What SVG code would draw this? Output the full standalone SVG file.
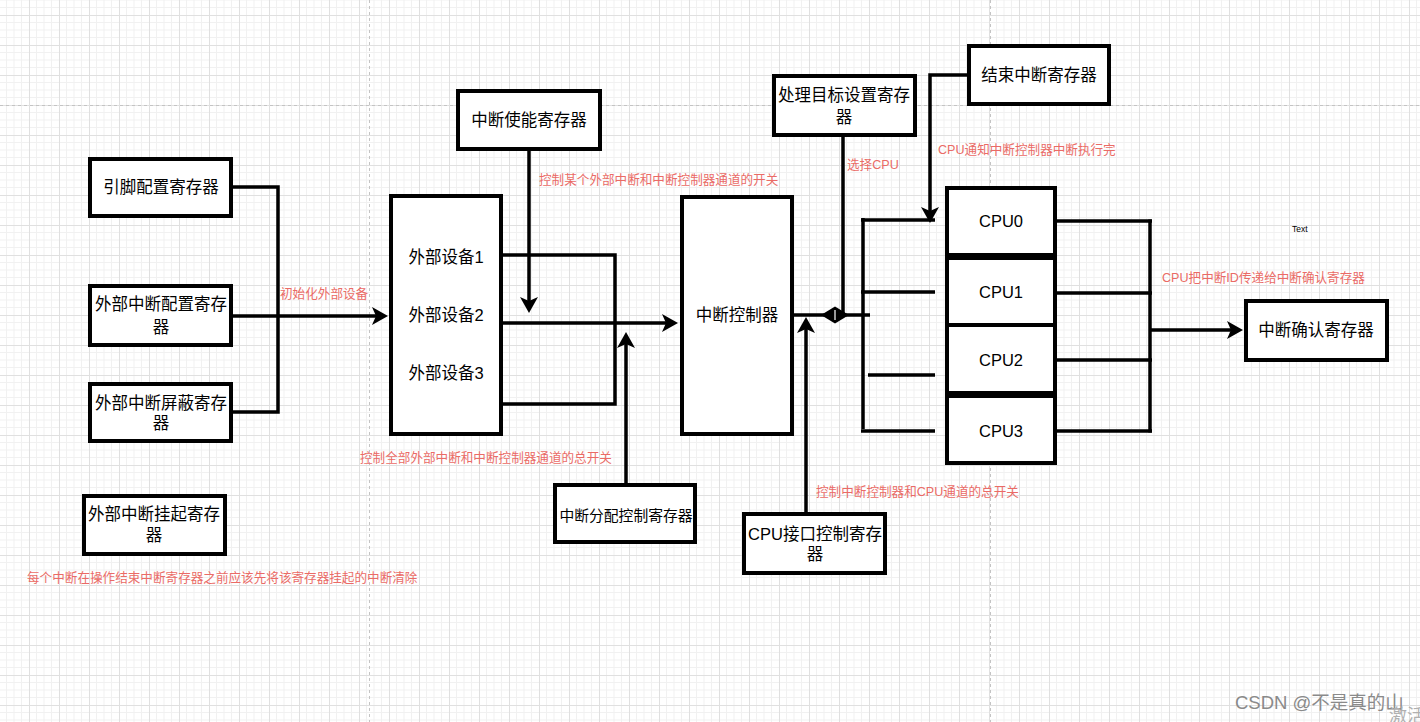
<svg xmlns="http://www.w3.org/2000/svg" width="1420" height="722" viewBox="0 0 1420 722">
<defs>
<pattern id="grid" patternUnits="userSpaceOnUse" x="29" y="15" width="30" height="30">
<rect width="30" height="30" fill="#ffffff"/>
<path d="M7.5 0V30M15 0V30M22.5 0V30M0 7.5H30M0 15H30M0 22.5H30" stroke="#f1f1f1" stroke-width="1"/>
<path d="M0.5 0V30M0 0.5H30" stroke="#e0e0e0" stroke-width="1"/>
</pattern>
<marker id="arr" viewBox="0 0 16 18" refX="12" refY="9" markerWidth="16" markerHeight="18" markerUnits="userSpaceOnUse" orient="auto">
<path d="M16 9 L0 0 L4 9 L0 18 Z" fill="#000"/>
</marker>
<style>
.box{fill:#fff;stroke:#000;stroke-width:4}
.t{font-family:"Liberation Sans","Noto Sans CJK SC",sans-serif;font-size:16.5px;fill:#000;text-anchor:middle}
.r{font-family:"Liberation Sans","Noto Sans CJK SC",sans-serif;font-size:12.6px;fill:#ea6b66}
.ln{fill:none;stroke:#000;stroke-width:3.5}
.pg{stroke:#c4c4c4;stroke-width:1;stroke-dasharray:3 3}
</style>
</defs>
<rect width="1420" height="722" fill="url(#grid)"/>
<g id="pagebreaks">
<line class="pg" x1="0" y1="105.5" x2="1420" y2="105.5"/>
<line class="pg" x1="369.5" y1="0" x2="369.5" y2="722"/>
<line class="pg" x1="990.5" y1="0" x2="990.5" y2="722"/>
</g>
<g id="connectors">
<polyline class="ln" points="233,187 278,187 278,412 233,412"/>
<line class="ln" x1="233" y1="316" x2="384" y2="316" marker-end="url(#arr)"/>
<line class="ln" x1="529" y1="151" x2="529" y2="309" marker-end="url(#arr)"/>
<polyline class="ln" points="503,255 615,255 615,404 503,404"/>
<line class="ln" x1="503" y1="323" x2="674" y2="323" marker-end="url(#arr)"/>
<line class="ln" x1="626" y1="483" x2="626" y2="336" marker-end="url(#arr)"/>
<line class="ln" x1="793" y1="315" x2="870" y2="315"/>
<line class="ln" x1="843" y1="137" x2="843" y2="315"/>
<polygon points="821,315 835,306.5 849,315 835,323.5" fill="#000"/>
<line x1="835" y1="310" x2="835" y2="320" stroke="#fff" stroke-width="1.2"/>
<line class="ln" x1="806" y1="512" x2="806" y2="321" marker-end="url(#arr)"/>
<line class="ln" x1="863" y1="218" x2="863" y2="429"/>
<line class="ln" x1="861" y1="220" x2="935" y2="220"/>
<line class="ln" x1="861" y1="292" x2="935" y2="292"/>
<line class="ln" x1="868" y1="375" x2="935" y2="375"/>
<line class="ln" x1="861" y1="431" x2="935" y2="431"/>
<polyline class="ln" points="967,75 930,75 930,219" marker-end="url(#arr)"/>
<line class="ln" x1="1057" y1="221" x2="1152" y2="221"/>
<line class="ln" x1="1057" y1="293" x2="1152" y2="293"/>
<line class="ln" x1="1057" y1="360" x2="1152" y2="360"/>
<line class="ln" x1="1057" y1="431" x2="1152" y2="431"/>
<line class="ln" x1="1150" y1="219.5" x2="1150" y2="432.5"/>
<line class="ln" x1="1150" y1="330" x2="1239" y2="330" marker-end="url(#arr)"/>
</g>
<g id="n_pin"><rect class="box" x="90" y="159" width="141" height="57"/><text class="t" x="161" y="193">引脚配置寄存器</text></g>
<g id="n_extcfg"><rect class="box" x="90" y="286" width="141" height="59"/><text class="t" x="161" y="310">外部中断配置寄存</text><text class="t" x="161" y="333">器</text></g>
<g id="n_extmask"><rect class="box" x="90" y="384" width="141" height="57"/><text class="t" x="161" y="409">外部中断屏蔽寄存</text><text class="t" x="161" y="429">器</text></g>
<g id="n_extpend"><rect class="box" x="84" y="496" width="141" height="58"/><text class="t" x="154" y="520">外部中断挂起寄存</text><text class="t" x="154" y="541">器</text></g>
<g id="n_dev"><rect class="box" x="391" y="196" width="110" height="238"/><text class="t" x="446" y="263">外部设备1</text><text class="t" x="446" y="321">外部设备2</text><text class="t" x="446" y="379">外部设备3</text></g>
<g id="n_enable"><rect class="box" x="458" y="91" width="142" height="58"/><text class="t" x="529" y="126">中断使能寄存器</text></g>
<g id="n_dist"><rect class="box" x="555" y="485" width="140" height="57"/><text class="t" x="626" y="520.5" style="font-size:14.8px">中断分配控制寄存器</text></g>
<g id="n_gic"><rect class="box" x="682" y="197" width="110" height="237"/><text class="t" x="737" y="321">中断控制器</text></g>
<g id="n_target"><rect class="box" x="774" y="76" width="141" height="59"/><text class="t" x="844" y="101">处理目标设置寄存</text><text class="t" x="844" y="123">器</text></g>
<g id="n_eoi"><rect class="box" x="969" y="46" width="140" height="58"/><text class="t" x="1039" y="81">结束中断寄存器</text></g>
<g id="n_cpuif"><rect class="box" x="744" y="514" width="141" height="59"/><text class="t" x="815" y="540">CPU接口控制寄存</text><text class="t" x="815" y="560">器</text></g>
<g id="n_cpu0"><rect class="box" x="947" y="188" width="108" height="67"/><text class="t" x="1001" y="227">CPU0</text></g>
<g id="n_cpu1"><rect class="box" x="947" y="258" width="108" height="67"/><text class="t" x="1001" y="298">CPU1</text></g>
<g id="n_cpu2"><rect class="box" x="947" y="325" width="108" height="68"/><text class="t" x="1001" y="366">CPU2</text></g>
<g id="n_cpu3"><rect class="box" x="947" y="396" width="108" height="67"/><text class="t" x="1001" y="437">CPU3</text></g>
<g id="n_ack"><rect class="box" x="1246" y="301" width="141" height="59"/><text class="t" x="1316" y="336">中断确认寄存器</text></g>
<g id="labels">
<text class="r" x="280" y="297.5">初始化外部设备</text>
<text class="r" x="539" y="183.5">控制某个外部中断和中断控制器通道的开关</text>
<text class="r" x="360" y="461.5">控制全部外部中断和中断控制器通道的总开关</text>
<text class="r" x="847" y="168.5">选择CPU</text>
<text class="r" x="938" y="153.5">CPU通知中断控制器中断执行完</text>
<text class="r" x="816" y="495.5">控制中断控制器和CPU通道的总开关</text>
<text class="r" x="1162" y="281.5">CPU把中断ID传递给中断确认寄存器</text>
<text class="r" x="27" y="581.5">每个中断在操作结束中断寄存器之前应该先将该寄存器挂起的中断清除</text>
<text x="1292" y="232" font-family="Liberation Sans, sans-serif" font-size="8.5" fill="#000">Text</text>
</g>
<g id="watermark">
<text x="1235" y="709" font-family="Liberation Sans, Noto Sans CJK SC, sans-serif" font-size="18.5" fill="#8a8a8a">CSDN @不是真的山</text>
<text x="1389" y="722" font-family="Liberation Sans, Noto Sans CJK SC, sans-serif" font-size="18" fill="#b0b0b0">激活</text>
</g>
</svg>
